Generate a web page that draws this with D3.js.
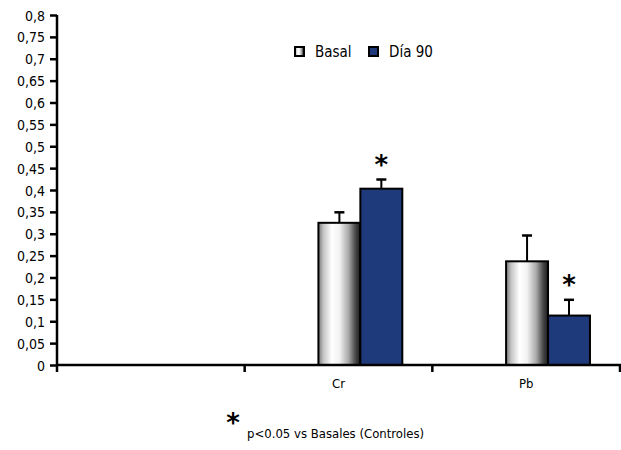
<!DOCTYPE html>
<html>
<head>
<meta charset="utf-8">
<script src="https://cdn.jsdelivr.net/npm/d3@7"></script>
<style>
  body { margin: 0; background: #fff; }
  svg text { font-family: "Liberation Sans Narrow", "Arial Narrow", "DejaVu Sans Condensed", sans-serif; fill: #000; }
</style>
</head>
<body>
<svg id="chart" width="621" height="450"></svg>
<script>
// data
var categories = ["", "Cr", "Pb"];
var series = ["Basal", "Día 90"];
var basal = [null, 0.325, 0.237];
var basalErr = [null, 0.024, 0.059];
var dia90 = [null, 0.403, 0.113];
var dia90Err = [null, 0.021, 0.036];
var signif = [null, true, true]; // asterisk over Día 90
var yTicks = [0, 0.05, 0.1, 0.15, 0.2, 0.25, 0.3, 0.35, 0.4, 0.45, 0.5, 0.55, 0.6, 0.65, 0.7, 0.75, 0.8];

var svg = d3.select("#chart");

var x = d3.scaleBand().domain(categories).range([57, 620]).padding(0);
var y = d3.scaleLinear().domain([0, 0.8]).range([365, 15]);
var bw = x.bandwidth();
var xs = d3.scaleBand().domain(series).range([bw * 0.393, bw * 0.84]).padding(0);

var defs = svg.append("defs");
var grad = defs.append("linearGradient").attr("id", "cyl").attr("x1", "0%").attr("x2", "100%");
[[0, "#7a7a7a"], [0.12, "#c4c4c4"], [0.32, "#ffffff"], [0.5, "#f2f2f2"], [0.72, "#a8a8a8"], [0.88, "#4a4a4a"], [1, "#1a1a1a"]]
  .forEach(function(s) { grad.append("stop").attr("offset", s[0]).attr("stop-color", s[1]); });

var rows = [];
categories.forEach(function(c, i) {
  if (basal[i] != null) rows.push({cat: c, s: "Basal", v: basal[i], e: basalErr[i], star: false});
  if (dia90[i] != null) rows.push({cat: c, s: "Día 90", v: dia90[i], e: dia90Err[i], star: signif[i]});
});

// error bars (drawn first, bar tops cover the stem base)
var eb = svg.append("g").attr("stroke", "#000").attr("stroke-width", 2);
rows.forEach(function(d) {
  var cx = x(d.cat) + xs(d.s) + xs.bandwidth() / 2;
  eb.append("line").attr("x1", cx).attr("x2", cx).attr("y1", y(d.v)).attr("y2", y(d.v + d.e));
  eb.append("line").attr("x1", cx - 5).attr("x2", cx + 5).attr("y1", y(d.v + d.e)).attr("y2", y(d.v + d.e)).attr("stroke-width", 2.5);
});

svg.append("g").selectAll("rect").data(rows).join("rect")
  .attr("x", function(d) { return x(d.cat) + xs(d.s); })
  .attr("y", function(d) { return y(d.v); })
  .attr("width", xs.bandwidth())
  .attr("height", function(d) { return y(0) - y(d.v); })
  .attr("fill", function(d) { return d.s == "Basal" ? "url(#cyl)" : "#1f3a7a"; })
  .attr("stroke", "#000").attr("stroke-width", 2);

// significance asterisks
svg.append("g").selectAll("text").data(rows.filter(function(d) { return d.star; })).join("text")
  .attr("x", function(d) { return x(d.cat) + xs(d.s) + xs.bandwidth() / 2; })
  .attr("y", function(d) { return y(d.v + d.e) - 6; })
  .attr("text-anchor", "middle")
  .style("font-family", "'DejaVu Sans', sans-serif")
  .style("font-size", "26px").style("font-weight", "bold")
  .text("*");

// y axis
var yAxis = svg.append("g").attr("transform", "translate(57,0)")
  .call(d3.axisLeft(y).tickValues(yTicks).tickSize(7).tickPadding(5)
    .tickFormat(function(d) { return d3.format("")(+d.toFixed(2)).replace(".", ","); }));
yAxis.select(".domain").attr("stroke-width", 2.5).attr("d", "M0," + y(0.8) + "V" + (y(0) + 7));
yAxis.selectAll(".tick line").attr("stroke-width", 2.5);
yAxis.selectAll(".tick text").style("font-size", "14px").attr("dy", "0.36em");

// x axis
var xAxis = svg.append("g");
xAxis.append("line").attr("x1", 57).attr("x2", 621).attr("y1", y(0)).attr("y2", y(0))
  .attr("stroke", "#000").attr("stroke-width", 2.5);
categories.forEach(function(c) {
  xAxis.append("line").attr("x1", x(c) + bw).attr("x2", x(c) + bw).attr("y1", y(0)).attr("y2", y(0) + 7)
    .attr("stroke", "#000").attr("stroke-width", 2.5);
  xAxis.append("text").attr("x", x(c) + bw / 2).attr("y", 388).attr("text-anchor", "middle")
    .style("font-size", "13px").text(c);
});

// legend
var leg = svg.append("g").attr("transform", "translate(295,46)");
var lx = [0, 74];
series.forEach(function(s, i) {
  leg.append("rect").attr("x", lx[i]).attr("y", 1).attr("width", 9).attr("height", 9)
    .attr("fill", i == 0 ? "url(#cyl)" : "#1f3a7a").attr("stroke", "#000").attr("stroke-width", 2);
  leg.append("text").attr("x", lx[i] + 20).attr("y", 11).style("font-size", "15px").text(s);
});

// footnote
svg.append("text").attr("x", 233).attr("y", 432).attr("text-anchor", "middle")
  .style("font-family", "'DejaVu Sans', sans-serif").style("font-size", "26px").style("font-weight", "bold").text("*");
svg.append("text").attr("x", 247).attr("y", 438).style("font-size", "13px").text("p<0.05 vs Basales (Controles)");
</script>
</body>
</html>
